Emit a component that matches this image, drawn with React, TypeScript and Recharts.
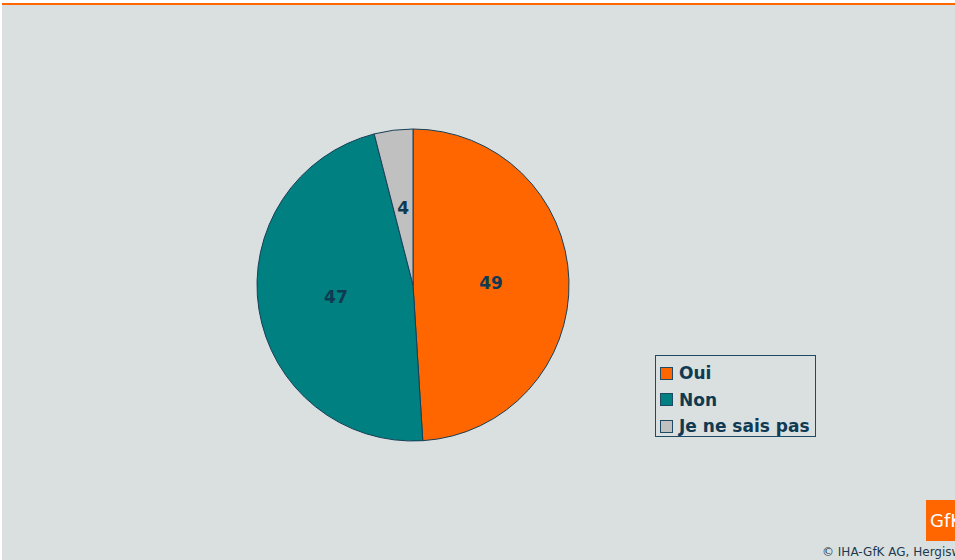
import React from 'react';
import { PieChart, Pie, Cell, Legend } from 'recharts';

const categories = ['Oui', 'Non', 'Je ne sais pas'];
const values = [49, 47, 4];
const colors = ['#FF6600', '#008080', '#C0C0C0'];

const data = categories.map((name, i) => ({ name, value: values[i] }));

const RADIAN = Math.PI / 180;
const FONT = '"DejaVu Sans", Verdana, sans-serif';
const TEXT = '#0F3A52';

const renderLabel = (props: any) => {
  const { cx, cy, midAngle, outerRadius, value } = props;
  const r = outerRadius * 0.5;
  const x = cx + r * Math.cos(-midAngle * RADIAN);
  const y = cy + r * Math.sin(-midAngle * RADIAN);
  return (
    <text x={x} y={y} fill={TEXT} textAnchor="middle" dominantBaseline="central"
      fontFamily={FONT} fontWeight="bold" fontSize={17}>
      {value}
    </text>
  );
};

const LegendBox = (props: any) => {
  // keep the order of the data, not the alphabetical one
  const items = [...(props.payload || [])].sort(
    (a: any, b: any) => categories.indexOf(a.value) - categories.indexOf(b.value)
  );
  return (
    <div style={{
      width: 161, height: 82, border: '1px solid #1F4A63', boxSizing: 'border-box',
      padding: '4px 0 0 4px', fontFamily: FONT, fontWeight: 'bold', fontSize: 17, color: TEXT,
    }}>
      {items.map((it: any, i: number) => (
        <div key={i} style={{ display: 'flex', alignItems: 'center', height: 26.5 }}>
          <span style={{
            display: 'inline-block', width: 11, height: 11, background: it.color,
            border: '1px solid #1F4A63', marginRight: 6,
          }} />
          <span>{it.value}</span>
        </div>
      ))}
    </div>
  );
};

export default function App() {
  return (
    <div style={{ position: 'absolute', left: 0, top: 0, width: 955, height: 560, background: '#FFFFFF', overflow: 'hidden' }}>
      <div style={{ position: 'absolute', left: 2, top: 3, right: 0, height: 2, background: '#FF6600' }} />
      <div style={{ position: 'absolute', left: 2, top: 5, right: 0, bottom: 0, background: '#DAE0E0' }} />
      <div style={{ position: 'absolute', left: 0, top: 0 }}>
        <PieChart width={955} height={560} margin={{ top: 0, right: 0, bottom: 0, left: 0 }}>
          <Pie
            data={data}
            dataKey="value"
            nameKey="name"
            cx={413}
            cy={285}
            outerRadius={156}
            startAngle={90}
            endAngle={-270}
            stroke="#173F57"
            strokeWidth={1}
            label={renderLabel}
            labelLine={false}
            isAnimationActive={false}
          >
            {data.map((d, i) => (
              <Cell key={d.name} fill={colors[i]} />
            ))}
          </Pie>
          <Legend
            content={<LegendBox />}
            wrapperStyle={{ position: 'absolute', left: 655, top: 355, width: 161, height: 82 }}
          />
        </PieChart>
      </div>
      <div style={{
        position: 'absolute', left: 926, top: 500, width: 40, height: 41, background: '#FF6600',
        color: '#FFFFFF', fontFamily: FONT, fontSize: 18, lineHeight: '41px', paddingLeft: 4, boxSizing: 'border-box',
      }}>GfK</div>
      <div style={{
        position: 'absolute', left: 822, top: 545, whiteSpace: 'nowrap', fontFamily: FONT,
        fontSize: 12, color: '#1E3A4E',
      }}>© IHA-GfK AG, Hergiswil</div>
    </div>
  );
}
